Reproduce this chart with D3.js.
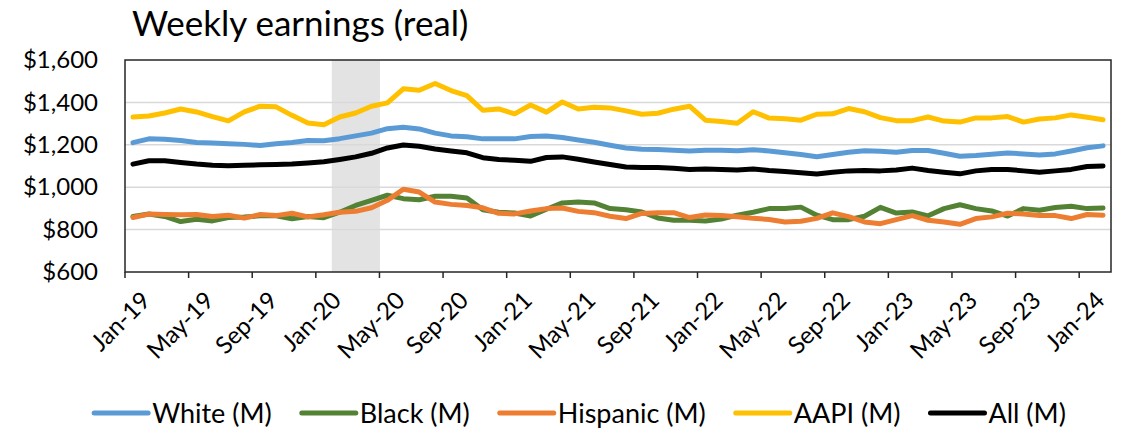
<!DOCTYPE html>
<html>
<head>
<meta charset="utf-8">
<script src="https://cdn.jsdelivr.net/npm/d3@7"></script>
<style>
  body { margin: 0; background: #fff; }
  svg { display: block; font-family: Lato, "Open Sans", sans-serif; }
</style>
</head>
<body>
<svg id="drawing_region"></svg>
<script>
// months Jan-19 .. Feb-24
const months = d3.timeMonth.range(new Date(2019, 0, 1), new Date(2024, 2, 1));
const fmt = d3.timeFormat('%b-%y');
const categories = months.map(fmt);

const tick_labels = ['Jan-19','May-19','Sep-19','Jan-20','May-20','Sep-20','Jan-21','May-21',
  'Sep-21','Jan-22','May-22','Sep-22','Jan-23','May-23','Sep-23','Jan-24'];
const y_ticks = [600, 800, 1000, 1200, 1400, 1600];
const shaded = ['Feb-20', 'Mar-20', 'Apr-20'];

const white = [1210,1228,1226,1220,1211,1209,1205,1202,1197,1205,1211,1220,
  1219,1229,1242,1255,1276,1283,1275,1255,1242,1238,1228,1229,
  1228,1239,1242,1234,1223,1212,1198,1185,1179,1178,1174,1171,
  1174,1174,1172,1177,1171,1163,1154,1144,1154,1165,1172,1169,
  1165,1173,1173,1160,1146,1149,1155,1161,1157,1152,1157,1171,1186,1195];
const black = [862,874,862,838,849,841,857,859,865,865,851,862,
  856,882,914,938,962,946,941,957,957,949,894,882,
  878,864,896,926,930,926,899,894,883,855,844,844,
  841,850,868,882,899,899,906,868,847,847,863,905,
  878,883,865,899,917,899,888,864,899,891,904,910,899,902];
const hispanic = [857,873,871,870,871,862,868,854,871,866,877,860,
  870,882,886,903,938,990,977,930,919,914,903,877,
  874,888,899,902,886,880,863,852,876,880,880,857,
  869,867,861,853,848,836,839,853,879,861,836,828,
  847,866,844,836,825,852,860,877,874,866,866,852,871,868];
const aapi = [1331,1336,1350,1369,1355,1333,1313,1355,1382,1379,1339,1303,
  1295,1331,1350,1382,1398,1464,1457,1489,1456,1432,1363,1369,
  1346,1388,1354,1402,1369,1377,1374,1360,1344,1349,1368,1382,
  1316,1310,1302,1356,1326,1323,1316,1344,1346,1371,1356,1328,
  1314,1314,1331,1312,1307,1327,1327,1333,1307,1322,1327,1341,1330,1318];
const all = [1109,1125,1125,1117,1109,1103,1101,1103,1106,1107,1109,1114,
  1120,1131,1143,1160,1185,1199,1193,1180,1171,1162,1139,1131,
  1127,1122,1140,1143,1132,1119,1107,1095,1093,1093,1089,1083,
  1086,1084,1081,1086,1079,1074,1068,1062,1071,1077,1079,1077,
  1081,1090,1079,1071,1063,1077,1083,1084,1077,1071,1077,1084,1098,1100];

const series = [
  {name: 'White (M)', values: white, color: '#5b9bd5'},
  {name: 'Black (M)', values: black, color: '#548235'},
  {name: 'Hispanic (M)', values: hispanic, color: '#ed7d31'},
  {name: 'AAPI (M)', values: aapi, color: '#ffc000'},
  {name: 'All (M)', values: all, color: '#000000'}
];

const width = 1124;
const height = 433;
const margin = {top: 60, right: 13, bottom: 161, left: 125};
const inner_width = width - margin.left - margin.right;
const inner_height = height - margin.top - margin.bottom;

const svg = d3.select('#drawing_region')
    .attr('width', width)
    .attr('height', height);

svg.append('text')
    .attr('x', 132)
    .attr('y', 36)
    .attr('font-size', 35)
    .attr('fill', '#000')
    .text('Weekly earnings (real)');

const chart = svg.append('g')
    .attr('transform', `translate(${margin.left}, ${margin.top})`);

const xscale = d3.scaleBand()
    .domain(categories)
    .range([0, inner_width])
    .padding(0);

const yscale = d3.scaleLinear()
    .domain([600, 1600])
    .range([inner_height, 0]);

// shaded months
chart.selectAll('.shade')
    .data(shaded)
    .join('rect')
    .attr('x', d => xscale(d))
    .attr('width', xscale.bandwidth() + 0.5)
    .attr('y', 0)
    .attr('height', inner_height)
    .attr('fill', '#e3e3e3');

// gridlines
chart.selectAll('.grid')
    .data(y_ticks.slice(1, -1))
    .join('line')
    .attr('x1', 0)
    .attr('x2', inner_width)
    .attr('y1', d => yscale(d))
    .attr('y2', d => yscale(d))
    .attr('stroke', '#d9d9d9')
    .attr('stroke-width', 1.5);

// y axis labels
const yaxis = d3.axisLeft(yscale)
    .tickValues(y_ticks)
    .tickSize(0)
    .tickPadding(27)
    .tickFormat(d => '$' + d3.format(',')(d));
const yaxis_group = chart.append('g').call(yaxis);
yaxis_group.select('.domain').remove();
yaxis_group.selectAll('text')
    .attr('font-size', 24)
    .attr('font-family', 'Lato')
    .attr('fill', '#000');

// lines
const line = d3.line()
    .x((d, i) => xscale(categories[i]) + xscale.bandwidth() / 2)
    .y(d => yscale(d));

chart.selectAll('.series')
    .data(series)
    .join('path')
    .attr('d', d => line(d.values))
    .attr('fill', 'none')
    .attr('stroke', d => d.color)
    .attr('stroke-width', 5)
    .attr('stroke-linejoin', 'round')
    .attr('stroke-linecap', 'round');

// plot border
chart.append('rect')
    .attr('x', 0)
    .attr('y', 0)
    .attr('width', inner_width)
    .attr('height', inner_height)
    .attr('fill', 'none')
    .attr('stroke', '#262626')
    .attr('stroke-width', 1.5);

// x axis: ticks between categories, every 4 months
const tick_groups = chart.append('g')
    .attr('transform', `translate(0, ${inner_height})`)
    .selectAll('g')
    .data(tick_labels)
    .join('g');
tick_groups.append('line')
    .attr('x1', d => xscale(d))
    .attr('x2', d => xscale(d))
    .attr('y1', 0)
    .attr('y2', 6)
    .attr('stroke', '#262626')
    .attr('stroke-width', 1.5);
tick_groups.append('text')
    .attr('transform', d => `translate(${xscale(d) + xscale.bandwidth() / 2 + 7}, 18) rotate(-45)`)
    .attr('text-anchor', 'end')
    .attr('dy', '0.7em')
    .attr('font-size', 24)
    .attr('fill', '#000')
    .text(d => d);

// legend
const legend = svg.append('g').attr('transform', 'translate(0, 413)');
const items = legend.selectAll('g')
    .data(series)
    .join('g');
items.append('line')
    .attr('x1', 0).attr('x2', 54)
    .attr('stroke', d => d.color)
    .attr('stroke-width', 5)
    .attr('stroke-linecap', 'round');
items.append('text')
    .attr('x', 58)
    .attr('dy', '0.36em')
    .attr('font-size', 27)
    .attr('fill', '#000')
    .text(d => d.name);
let xpos = 0;
const offsets = [];
items.each(function() {
    offsets.push(xpos);
    xpos += 58 + d3.select(this).select('text').node().getComputedTextLength() + 30;
});
const total = xpos - 30;
const start = 580 - total / 2;
items.attr('transform', (d, i) => `translate(${start + offsets[i]}, 0)`);
</script>
</body>
</html>
